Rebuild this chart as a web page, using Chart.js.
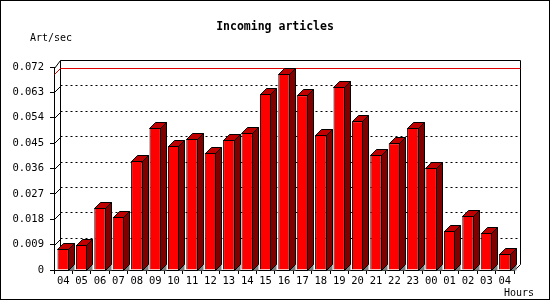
<!DOCTYPE html>
<html>
<head>
<meta charset="utf-8">
<script src="https://cdn.jsdelivr.net/npm/chart.js@4"></script>
<style>
  body { margin: 0; background: #fff; }
  canvas { display: block; }
</style>
</head>
<body>
<canvas id="inChart" width="550" height="300"></canvas>
<script>
const hours = ['04', '05', '06', '07', '08', '09', '10', '11', '12', '13', '14', '15', '16',
               '17', '18', '19', '20', '21', '22', '23', '00', '01', '02', '03', '04'];
const artPerSec = [0.0075, 0.0089, 0.0220, 0.0188, 0.0387, 0.0504, 0.0440, 0.0465, 0.0415,
                   0.0461, 0.0486, 0.0624, 0.0695, 0.0620, 0.0479, 0.0649, 0.0528, 0.0408,
                   0.0450, 0.0504, 0.0362, 0.0138, 0.0192, 0.0131, 0.0057];
const yMax = 0.072;
const yStep = 0.009;

const D = 6; // depth of the 3d effect
const mono = '"DejaVu Sans Mono", "Liberation Mono", monospace';

const px = v => Math.round(v) + 0.5;

function line(ctx, pts) {
    ctx.beginPath();
    ctx.moveTo(px(pts[0][0]), px(pts[0][1]));
    for (let i = 1; i < pts.length; i++) ctx.lineTo(px(pts[i][0]), px(pts[i][1]));
    ctx.stroke();
}

function poly(ctx, pts, fill) {
    ctx.beginPath();
    ctx.moveTo(px(pts[0][0]), px(pts[0][1]));
    for (let i = 1; i < pts.length; i++) ctx.lineTo(px(pts[i][0]), px(pts[i][1]));
    ctx.closePath();
    ctx.fillStyle = fill;
    ctx.fill();
}

const frame3d = {
    id: 'frame3d',
    beforeDraw(chart) {
        const ctx = chart.ctx;
        ctx.save();
        ctx.fillStyle = '#fff';
        ctx.fillRect(0, 0, chart.width, chart.height);
        ctx.strokeStyle = '#000';
        ctx.lineWidth = 1;
        ctx.strokeRect(0.5, 0.5, chart.width - 1, chart.height - 1);

        ctx.fillStyle = '#000';
        ctx.font = 'bold 11.5px ' + mono;
        ctx.textAlign = 'center';
        ctx.textBaseline = 'middle';
        ctx.fillText('Incoming articles', 275, 27);
        ctx.font = '10px ' + mono;
        ctx.textAlign = 'left';
        ctx.fillText('Art/sec', 30, 38);
        ctx.fillText('Hours', 504, 293);
        ctx.restore();
    },
    beforeDatasetsDraw(chart) {
        const ctx = chart.ctx;
        const a = chart.chartArea;
        const y = chart.scales.y;
        ctx.save();
        ctx.lineWidth = 1;
        ctx.strokeStyle = '#000';

        // back wall and floor edges
        const top = a.top - 7;
        line(ctx, [[a.left, a.top + 1], [a.left + D, top], [a.right + D, top], [a.right + D, a.bottom - D], [a.right, a.bottom]]);
        line(ctx, [[a.left + D, top], [a.left + D, a.bottom - D]]);

        // dotted grid on the back wall, slanted ticks on the side wall
        for (let v = yStep; v < yMax - 1e-9; v += yStep) {
            const yy = y.getPixelForValue(v);
            ctx.setLineDash([]);
            line(ctx, [[a.left, yy], [a.left + D, yy - D]]);
            ctx.setLineDash([2, 3]);
            line(ctx, [[a.left + D, yy - D - 1], [a.right + D, yy - D - 1]]);
        }
        ctx.setLineDash([]);

        // max line
        const maxY = y.getPixelForValue(Math.max(...artPerSec));
        ctx.strokeStyle = '#e00000';
        line(ctx, [[a.left, maxY], [a.left + D, maxY - D], [a.right + D, maxY - D]]);
        ctx.restore();
    },
    afterDatasetsDraw(chart) {
        const ctx = chart.ctx;
        const bars = chart.getDatasetMeta(0).data;
        ctx.save();
        ctx.lineWidth = 1;
        ctx.strokeStyle = '#000';
        bars.forEach(bar => {
            const p = bar.getProps(['x', 'y', 'base', 'width'], true);
            const xl = Math.round(p.x - p.width / 2);
            const xr = Math.round(p.x + p.width / 2) - 1;
            const yt = Math.round(p.y);
            const yb = Math.round(p.base);
            const topFace = [[xl, yt], [xl + D, yt - D], [xr + D, yt - D], [xr, yt]];
            const side = [[xr, yt], [xr + D, yt - D], [xr + D, yb - D], [xr, yb]];
            poly(ctx, [[xr, yb], [xr + D, yb - D], [xr + D, yb]], '#808080');
            poly(ctx, topFace, '#c00000');
            poly(ctx, side, '#800000');
            line(ctx, topFace.concat([topFace[0]]));
            line(ctx, side.concat([side[0]]));
        });
        ctx.restore();
    }
};

new Chart(document.getElementById('inChart'), {
    type: 'bar',
    data: {
        labels: hours,
        datasets: [{
            label: 'Art/sec',
            data: artPerSec,
            backgroundColor: '#ff0000',
            borderColor: '#000',
            borderWidth: 1,
            barPercentage: 0.62,
            categoryPercentage: 1
        }]
    },
    options: {
        responsive: false,
        animation: false,
        devicePixelRatio: 1,
        layout: { padding: { left: 0, top: 67, right: 36, bottom: 0 } },
        plugins: {
            legend: { display: false },
            title: { display: false },
            tooltip: { enabled: false }
        },
        scales: {
            x: {
                offset: true,
                afterFit(scale) { scale.height = 30; },
                grid: {
                    offset: true,
                    drawOnChartArea: false,
                    drawTicks: true,
                    tickLength: 4,
                    color: '#000'
                },
                border: { display: true, color: '#000' },
                ticks: {
                    color: '#000',
                    font: { family: mono, size: 10.5 },
                    padding: 1,
                    maxRotation: 0,
                    autoSkip: false
                }
            },
            y: {
                min: 0,
                max: yMax,
                afterFit(scale) { scale.width = 54; },
                grid: {
                    drawOnChartArea: false,
                    drawTicks: true,
                    tickLength: 4,
                    color: '#000'
                },
                border: { display: true, color: '#000' },
                ticks: {
                    stepSize: yStep,
                    color: '#000',
                    padding: 6,
                    font: { family: mono, size: 10.5 },
                    callback: v => (v === 0 ? '0' : v.toFixed(3))
                }
            }
        }
    },
    plugins: [frame3d]
});
</script>
</body>
</html>
